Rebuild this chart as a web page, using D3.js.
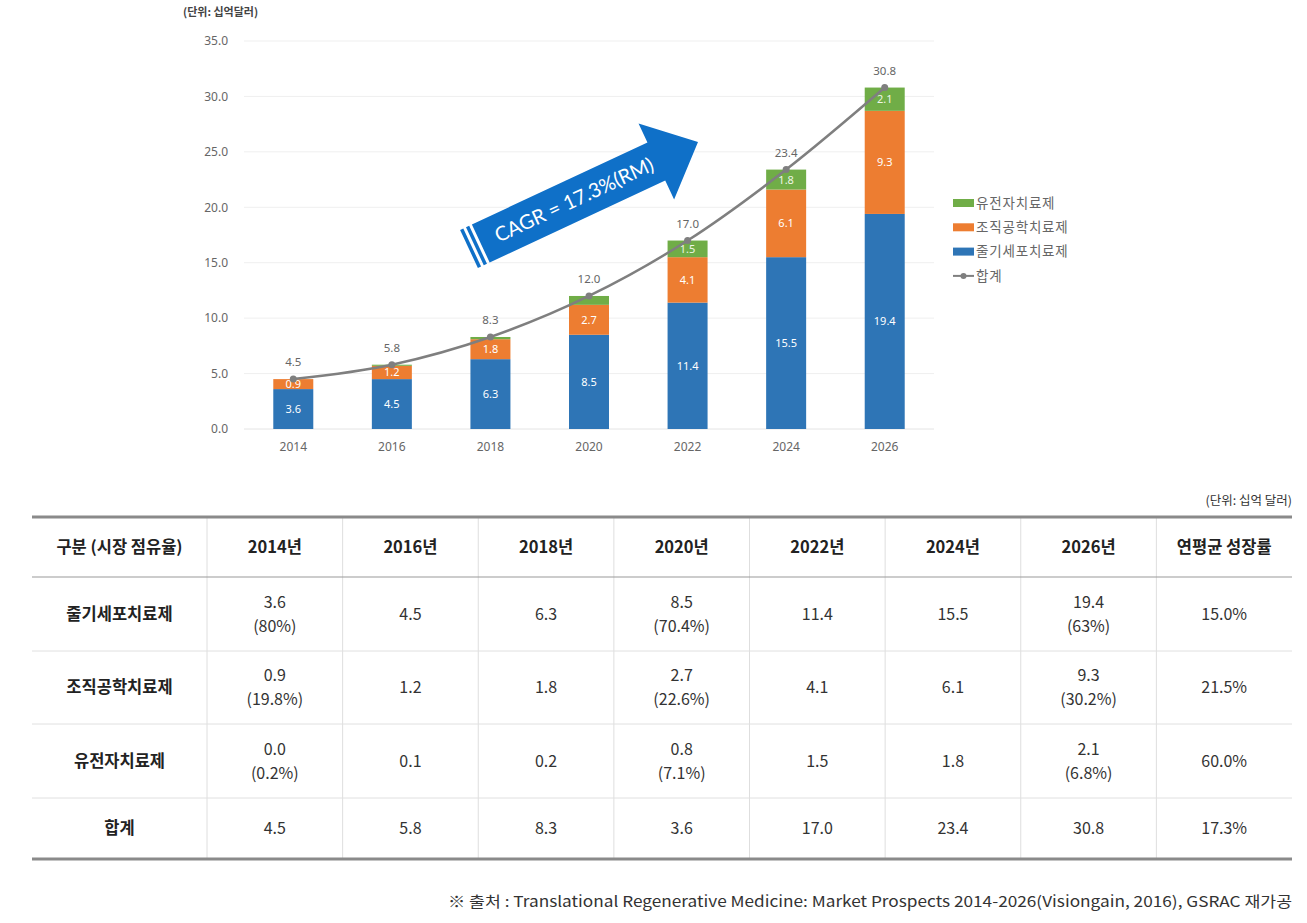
<!DOCTYPE html>
<html><head><meta charset="utf-8">
<script src="https://cdn.jsdelivr.net/npm/d3@7"></script>
<style>
html,body{margin:0;padding:0;background:#fff;}
svg{display:block;}
</style></head>
<body>
<svg id="chart" width="1307" height="923"></svg>
<script>
// ---------- data ----------
const years = ["2014","2016","2018","2020","2022","2024","2026"];
const stemCell = [3.6, 4.5, 6.3, 8.5, 11.4, 15.5, 19.4];
const tissueEng = [0.9, 1.2, 1.8, 2.7, 4.1, 6.1, 9.3];
const geneTherapy = [0.0, 0.1, 0.2, 0.8, 1.5, 1.8, 2.1];
const totals = [4.5, 5.8, 8.3, 12.0, 17.0, 23.4, 30.8];
const yTicks = [0, 5, 10, 15, 20, 25, 30, 35];
const seriesNames = ["줄기세포치료제", "조직공학치료제", "유전자치료제"];
const legendLabels = ["유전자치료제", "조직공학치료제", "줄기세포치료제", "합계"];
const arrowLabel = "CAGR = 17.3%(RM)";
const unitChart = "(단위: 십억달러)";
const unitTable = "(단위: 십억 달러)";
const tableHeader = ["구분 (시장 점유율)", "2014년", "2016년", "2018년", "2020년", "2022년", "2024년", "2026년", "연평균 성장률"];
const rowStem = ["줄기세포치료제", "3.6\n(80%)", "4.5", "6.3", "8.5\n(70.4%)", "11.4", "15.5", "19.4\n(63%)", "15.0%"];
const rowTissue = ["조직공학치료제", "0.9\n(19.8%)", "1.2", "1.8", "2.7\n(22.6%)", "4.1", "6.1", "9.3\n(30.2%)", "21.5%"];
const rowGene = ["유전자치료제", "0.0\n(0.2%)", "0.1", "0.2", "0.8\n(7.1%)", "1.5", "1.8", "2.1\n(6.8%)", "60.0%"];
const rowTotal = ["합계", "4.5", "5.8", "8.3", "3.6", "17.0", "23.4", "30.8", "17.3%"];
const footnote = "※ 출처 : Translational Regenerative Medicine: Market Prospects 2014-2026(Visiongain, 2016), GSRAC 재가공";

// ---------- styles ----------
const colors = {stem: "#2e75b6", tissue: "#ed7d31", gene: "#70ad47", line: "#7f7f7f", arrow: "#0f70c8"};
const chartFont = "'Noto Sans', 'Noto Sans CJK KR', sans-serif";
const korFont = "'Noto Sans CJK KR', 'Noto Sans', sans-serif";

const svg = d3.select("#chart");

// ---------- chart ----------
const x = d3.scaleBand().domain(years).range([244, 934]);
const y = d3.scaleLinear().domain([0, 35]).range([429, 41]);
const barW = 40;

const g = svg.append("g");

// gridlines
g.selectAll("line.grid").data(yTicks).join("line")
  .attr("x1", 244).attr("x2", 934)
  .attr("y1", d => y(d)).attr("y2", d => y(d))
  .attr("stroke", d => d === 0 ? "#e4e4e4" : "#efefef").attr("stroke-width", 1);

// y axis labels
const yAxis = d3.axisLeft(y).tickValues(yTicks).tickFormat(d3.format(".1f")).tickSize(0).tickPadding(0);
const ya = g.append("g").attr("transform", "translate(228,0)").call(yAxis);
ya.select(".domain").remove();
ya.selectAll("text").attr("font-family", chartFont).attr("font-size", 12).attr("fill", "#666");

// x axis labels
const xAxis = d3.axisBottom(x).tickSize(0).tickPadding(0);
const xa = g.append("g").attr("transform", "translate(0,442)").call(xAxis);
xa.select(".domain").remove();
xa.selectAll("text").attr("font-family", chartFont).attr("font-size", 12).attr("fill", "#666");

// stacked bars
const stackData = years.map((yr, i) => ({year: yr, stem: stemCell[i], tissue: tissueEng[i], gene: geneTherapy[i]}));
const stack = d3.stack().keys(["stem", "tissue", "gene"])(stackData);
stack.forEach(layer => {
  g.append("g").selectAll("rect").data(layer).join("rect")
    .attr("x", d => x(d.data.year) + x.bandwidth() / 2 - barW / 2)
    .attr("width", barW)
    .attr("y", d => y(d[1]))
    .attr("height", d => Math.max(0, y(d[0]) - y(d[1])))
    .attr("fill", colors[layer.key]);
});

// segment labels
stack.forEach(layer => {
  const lbl = layer.filter(d => layer.key !== "gene" || d.data.gene >= 1);
  g.append("g").selectAll("text").data(lbl).join("text")
    .attr("x", d => x(d.data.year) + x.bandwidth() / 2)
    .attr("y", d => (y(d[0]) + y(d[1])) / 2)
    .attr("dy", "0.36em")
    .attr("text-anchor", "middle")
    .attr("font-family", chartFont).attr("font-size", 11)
    .attr("fill", layer.key === "gene" ? "#eef5e6" : "#fff")
    .text(d => d3.format(".1f")(d.data[layer.key]));
});

// total line
const line = d3.line().x((d, i) => x(years[i]) + x.bandwidth() / 2).y(d => y(d)).curve(d3.curveMonotoneX);
g.append("path").datum(totals).attr("d", line)
  .attr("fill", "none").attr("stroke", colors.line).attr("stroke-width", 2.5);
g.selectAll("circle.pt").data(totals).join("circle")
  .attr("cx", (d, i) => x(years[i]) + x.bandwidth() / 2).attr("cy", d => y(d)).attr("r", 3.5)
  .attr("fill", colors.line);
g.selectAll("text.tot").data(totals).join("text")
  .attr("x", (d, i) => x(years[i]) + x.bandwidth() / 2).attr("y", d => y(d) - 13)
  .attr("text-anchor", "middle")
  .attr("font-family", chartFont).attr("font-size", 11.5).attr("fill", "#666")
  .text(d => d3.format(".1f")(d));

// unit label
svg.append("text").attr("x", 183).attr("y", 16)
  .attr("font-family", korFont).attr("font-size", 11).attr("font-weight", 700).attr("fill", "#444")
  .text(unitChart);

// legend
const legend = svg.append("g").attr("transform", "translate(953,203)");
const legendColors = [colors.gene, colors.tissue, colors.stem, null];
legendLabels.forEach((lab, i) => {
  const row = legend.append("g").attr("transform", `translate(0,${i * 24.3})`);
  if (legendColors[i]) {
    row.append("rect").attr("x", 0).attr("y", -4).attr("width", 21).attr("height", 8).attr("fill", legendColors[i]);
  } else {
    row.append("line").attr("x1", 0).attr("x2", 21).attr("y1", 0).attr("y2", 0).attr("stroke", colors.line).attr("stroke-width", 2);
    row.append("circle").attr("cx", 10.5).attr("cy", 0).attr("r", 3).attr("fill", colors.line);
  }
  row.append("text").attr("x", 23).attr("y", 0).attr("dy", "0.35em")
    .attr("font-family", korFont).attr("font-size", 13.5).attr("letter-spacing", 0.8).attr("fill", "#666")
    .text(lab);
});

// CAGR arrow
const tail = [469, 249], tip = [698, 142];
const ang = Math.atan2(tip[1] - tail[1], tip[0] - tail[0]) * 180 / Math.PI;
const L = Math.hypot(tip[0] - tail[0], tip[1] - tail[1]);
const bw = 21, hw = 42, hl = 46;
const arrow = svg.append("g").attr("transform", `translate(${tail[0]},${tail[1]}) rotate(${ang})`);
arrow.append("path").attr("fill", colors.arrow)
  .attr("d", `M13,${-bw} L${L - hl},${-bw} L${L - hl},${-hw} L${L},0 L${L - hl},${hw} L${L - hl},${bw} L13,${bw} Z`);
arrow.append("rect").attr("x", 0).attr("y", -bw).attr("width", 3.5).attr("height", 2 * bw).attr("fill", colors.arrow);
arrow.append("rect").attr("x", 6.5).attr("y", -bw).attr("width", 3.5).attr("height", 2 * bw).attr("fill", colors.arrow);
arrow.append("text").attr("x", 116).attr("y", 0).attr("dy", "0.35em").attr("text-anchor", "middle")
  .attr("font-family", "Lato, 'Open Sans', sans-serif").attr("font-size", 20).attr("fill", "#fff")
  .text(arrowLabel);

// ---------- table ----------
const tLeft = 32, tRight = 1292, firstColEnd = 207;
const colX = d3.scaleBand().domain(d3.range(1, 9)).range([firstColEnd, tRight]);
const colCenter = i => i === 0 ? (tLeft + firstColEnd) / 2 : colX(i) + colX.bandwidth() / 2;
const rowEdges = [517, 577, 651, 724, 798, 859];
const tbl = svg.append("g");

// vertical separators
tbl.selectAll("line.v").data(d3.range(1, 9)).join("line")
  .attr("x1", d => colX(d)).attr("x2", d => colX(d))
  .attr("y1", rowEdges[0]).attr("y2", rowEdges[5])
  .attr("stroke", "#dedede").attr("stroke-width", 1);
// horizontal lines
[2, 3, 4].forEach(r => {
  tbl.append("line").attr("x1", tLeft).attr("x2", tRight).attr("y1", rowEdges[r]).attr("y2", rowEdges[r]).attr("stroke", "#e0e0e0").attr("stroke-width", 1);
});
tbl.append("line").attr("x1", tLeft).attr("x2", tRight).attr("y1", rowEdges[1]).attr("y2", rowEdges[1]).attr("stroke", "#9a9a9a").attr("stroke-width", 1.2);
tbl.append("line").attr("x1", tLeft).attr("x2", tRight).attr("y1", rowEdges[0]).attr("y2", rowEdges[0]).attr("stroke", "#8a8a8a").attr("stroke-width", 3);
tbl.append("line").attr("x1", tLeft).attr("x2", tRight).attr("y1", rowEdges[5]).attr("y2", rowEdges[5]).attr("stroke", "#8a8a8a").attr("stroke-width", 3);

function cellText(txt, cx, cy, bold, size) {
  const lines = txt.split("\n");
  const lh = 24;
  lines.forEach((ln, k) => {
    tbl.append("text").attr("text-anchor", "middle")
      .attr("font-family", korFont).attr("font-size", size)
      .attr("font-weight", bold ? 700 : 400).attr("fill", bold ? "#222" : "#333")
      .attr("x", cx).attr("y", cy + (k - (lines.length - 1) / 2) * lh).attr("dy", "0.36em").text(ln);
  });
}
tableHeader.forEach((h, i) => cellText(h, colCenter(i), (rowEdges[0] + rowEdges[1]) / 2, true, 16.5));
[rowStem, rowTissue, rowGene, rowTotal].forEach((row, r) => {
  const cy = (rowEdges[r + 1] + rowEdges[r + 2]) / 2;
  row.forEach((v, i) => cellText(v, colCenter(i), cy, i === 0, i === 0 ? 16.5 : 16));
});

// table unit
svg.append("text").attr("x", tRight).attr("y", 505).attr("text-anchor", "end")
  .attr("font-family", korFont).attr("font-size", 12.5).attr("fill", "#333").text(unitTable);

// footnote
svg.append("text").attr("x", tRight).attr("y", 907).attr("text-anchor", "end")
  .attr("font-family", korFont).attr("font-size", 15).attr("fill", "#333")
  .attr("textLength", 844).attr("lengthAdjust", "spacingAndGlyphs")
  .text(footnote);
</script>
</body></html>
